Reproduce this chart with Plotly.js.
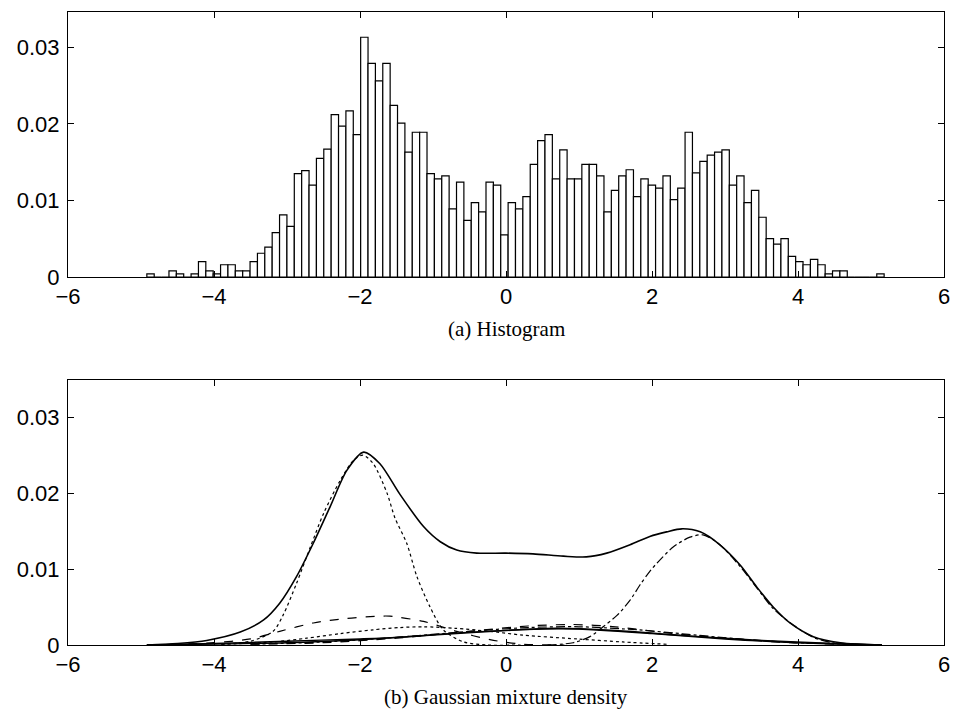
<!DOCTYPE html>
<html>
<head>
<meta charset="utf-8">
<script src="https://cdn.plot.ly/plotly-3.0.1.min.js"></script>
<style>html,body{margin:0;padding:0;background:#fff;}#chart{width:954px;height:717px;}</style>
</head>
<body>
<div id="chart"></div>
<script>
// ---- (a) Histogram: 100 bins of width 0.101 starting at -4.92 ----
var histStart = -4.8695;   // centre of first bin
var histBinWidth = 0.101;
var histValues = [
  0.0004, 0, 0, 0.0008, 0.0004, 0, 0.0004, 0.0020, 0.0008, 0.0004,
  0.0016, 0.0016, 0.0008, 0.0008, 0.0020, 0.0031, 0.0039, 0.0058, 0.0081, 0.0066,
  0.0135, 0.0139, 0.0120, 0.0155, 0.0167, 0.0212, 0.0197, 0.0217, 0.0186, 0.0313,
  0.0279, 0.0256, 0.0279, 0.0224, 0.0201, 0.0163, 0.0189, 0.0189, 0.0135, 0.0128,
  0.0132, 0.0089, 0.0124, 0.0074, 0.0097, 0.0085, 0.0124, 0.0120, 0.0055, 0.0097,
  0.0089, 0.0105, 0.0147, 0.0178, 0.0186, 0.0128, 0.0166, 0.0128, 0.0128, 0.0147,
  0.0147, 0.0132, 0.0085, 0.0113, 0.0132, 0.0140, 0.0105, 0.0128, 0.0120, 0.0116,
  0.0132, 0.0101, 0.0116, 0.0189, 0.0136, 0.0151, 0.0159, 0.0163, 0.0166, 0.0120,
  0.0132, 0.0097, 0.0113, 0.0078, 0.0050, 0.0043, 0.0050, 0.0027, 0.0020, 0.0016,
  0.0023, 0.0016, 0.0004, 0.0008, 0.0008, 0, 0, 0, 0, 0.0004
];

// ---- (b) Gaussian mixture density ----
var mixX = [-4.92, -4.5, -4.1, -3.64, -3.32, -3.10, -2.87, -2.64, -2.41, -2.18, -1.95, -1.73, -1.45, -1.13, -0.90, -0.675, -0.40, 0.0, 0.37, 0.785, 1.1, 1.38, 1.70, 1.97, 2.2, 2.41, 2.66, 2.93, 3.21, 3.43, 3.66, 3.89, 4.21, 4.58, 5.15];
var mixY = [0.0, 0.0002, 0.0006, 0.0017, 0.0033, 0.0055, 0.0090, 0.0134, 0.0182, 0.0230, 0.0254, 0.0239, 0.0198, 0.0156, 0.0136, 0.0125, 0.0121, 0.0121, 0.0120, 0.0117, 0.0116, 0.0121, 0.0132, 0.0143, 0.0149, 0.0153, 0.0149, 0.0132, 0.0105, 0.0077, 0.0050, 0.0029, 0.0011, 0.0003, 0.0];

var comp1X = [-3.9, -3.5, -3.19, -3.05, -2.87, -2.68, -2.50, -2.27, -2.09, -1.96, -1.82, -1.63, -1.52, -1.36, -1.22, -1.04, -0.86, -0.58, -0.26, 0.2];
var comp1Y = [0.0001, 0.0005, 0.0018, 0.0040, 0.0081, 0.0129, 0.0173, 0.0217, 0.0243, 0.0250, 0.0239, 0.0200, 0.0167, 0.0134, 0.0090, 0.0050, 0.0020, 0.0004, 0.0, 0.0];

var comp2X = [0.57, 0.92, 1.15, 1.33, 1.52, 1.70, 1.835, 1.97, 2.06, 2.29, 2.52, 2.70, 2.93, 3.21, 3.43, 3.66, 3.94, 4.21, 4.48, 4.8, 5.15];
var comp2Y = [0.0, 0.0003, 0.0011, 0.0024, 0.0039, 0.0059, 0.0079, 0.0097, 0.0107, 0.0129, 0.0142, 0.0145, 0.0132, 0.0103, 0.0076, 0.0048, 0.0026, 0.0010, 0.0003, 0.0001, 0.0];

var comp3X = [-4.6, -4.0, -3.5, -3.1, -2.64, -2.18, -1.73, -1.59, -1.13, -0.675, -0.22, 0.24, 0.8];
var comp3Y = [0.0001, 0.0003, 0.0008, 0.0018, 0.0029, 0.0035, 0.0038, 0.0038, 0.0031, 0.0018, 0.0007, 0.0001, 0.0];

var comp4X = [-3.9, -3.19, -2.73, -2.27, -1.82, -1.45, -1.13, -0.7, -0.22, 0.23, 0.97, 1.6, 2.2];
var comp4Y = [0.0001, 0.0004, 0.0009, 0.0015, 0.0020, 0.0023, 0.0024, 0.0022, 0.0018, 0.0013, 0.0008, 0.0004, 0.0001];

var comp5X = [-4.92, -4, -3, -2, -1.5, -0.5, 0.5, 1.0, 2, 3, 4, 5.15];
var comp5Y = [0, 0.0002, 0.0005, 0.0008, 0.0010, 0.0017, 0.0021, 0.0021, 0.0015, 0.0008, 0.0003, 0];

var comp6X = [-3.5, -2.5, -1.5, -0.5, 0.3, 0.9, 1.5, 2.2, 3.0, 3.9, 4.8];
var comp6Y = [0.0001, 0.0003, 0.0009, 0.0018, 0.0025, 0.0027, 0.0024, 0.0016, 0.0009, 0.0003, 0.0001];

var comp7X = [-3.5, -2.5, -1.5, -0.5, 0.3, 1.0, 1.8, 2.5, 3.2, 4.0, 4.8];
var comp7Y = [0.0001, 0.0004, 0.0010, 0.0018, 0.0023, 0.0024, 0.0020, 0.0014, 0.0008, 0.0003, 0.0001];

var comp8X = [-4.92, -3, -2, -1, 0, 0.7, 1.5, 2.5, 3.5, 4.5, 5.15];
var comp8Y = [0, 0.0003, 0.0007, 0.0013, 0.0019, 0.0022, 0.0019, 0.0012, 0.0006, 0.0002, 0];

var xTickVals = [-6, -4, -2, 0, 2, 4, 6];
var yTickVals = [0, 0.01, 0.02, 0.03];
var yTickText = ['0', '0.01', '0.02', '0.03'];
var panelTitles = ['(a) Histogram', '(b) Gaussian mixture density'];

function line(x, y, dash, w) {
  return {type: 'scatter', mode: 'lines', x: x, y: y, xaxis: 'x2', yaxis: 'y2',
    line: {color: '#000', width: w, dash: dash, shape: 'spline', smoothing: 0.8},
    hoverinfo: 'skip', showlegend: false};
}

var traces = [
  {type: 'bar', x0: histStart, dx: histBinWidth, y: histValues, xaxis: 'x', yaxis: 'y',
   marker: {color: '#fff', line: {color: '#000', width: 1.2}}, showlegend: false},
  line(comp5X, comp5Y, 'solid', 1.4),
  line(comp8X, comp8Y, 'solid', 1.4),
  line(comp6X, comp6Y, 'dash', 1.2),
  line(comp7X, comp7Y, 'dashdot', 1.2),
  line(comp4X, comp4Y, 'dot', 1.2),
  line(comp3X, comp3Y, 'dash', 1.2),
  line(comp1X, comp1Y, 'dot', 1.2),
  line(comp2X, comp2Y, 'dashdot', 1.2),
  line(mixX, mixY, 'solid', 1.6)
];

var W = 954, H = 717;
var xDom = [68 / W, 944 / W];
var axFont = {family: 'Liberation Sans, Arial, sans-serif', size: 22, color: '#000'};
function xa(anchor) {
  return {domain: xDom, anchor: anchor, range: [-6, 6], tickvals: xTickVals, ticks: 'inside', ticklen: 6,
    tickcolor: '#000', showline: true, linecolor: '#000', linewidth: 1, mirror: 'ticks',
    showgrid: false, zeroline: false, tickfont: axFont, automargin: false, ticklabelstandoff: 0};
}
function ya(anchor, dom, top) {
  return {domain: dom, anchor: anchor, range: [0, top], tickvals: yTickVals, ticktext: yTickText,
    ticks: 'inside', ticklen: 6, tickcolor: '#000', showline: true, linecolor: '#000', linewidth: 1,
    mirror: 'ticks', showgrid: false, zeroline: false, tickfont: axFont, automargin: false, ticklabelstandoff: 3};
}

var layout = {
  width: W, height: H,
  margin: {l: 0, r: 0, t: 0, b: 0},
  paper_bgcolor: '#fff', plot_bgcolor: '#fff',
  bargap: 0, showlegend: false,
  xaxis: xa('y'),
  yaxis: ya('x', [(H - 277) / H, (H - 12) / H], 0.0346),
  xaxis2: xa('y2'),
  yaxis2: ya('x2', [(H - 645) / H, (H - 380) / H], 0.0349),
  annotations: [
    {text: panelTitles[0], xref: 'paper', yref: 'paper', x: 506 / W, y: (H - 329) / H,
     xanchor: 'center', yanchor: 'middle', showarrow: false,
     font: {family: 'Liberation Serif, Times New Roman, serif', size: 21, color: '#000'}},
    {text: panelTitles[1], xref: 'paper', yref: 'paper', x: 506 / W, y: (H - 697) / H,
     xanchor: 'center', yanchor: 'middle', showarrow: false,
     font: {family: 'Liberation Serif, Times New Roman, serif', size: 21, color: '#000'}}
  ]
};

Plotly.newPlot('chart', traces, layout, {displayModeBar: false, staticPlot: true});
</script>
</body>
</html>
